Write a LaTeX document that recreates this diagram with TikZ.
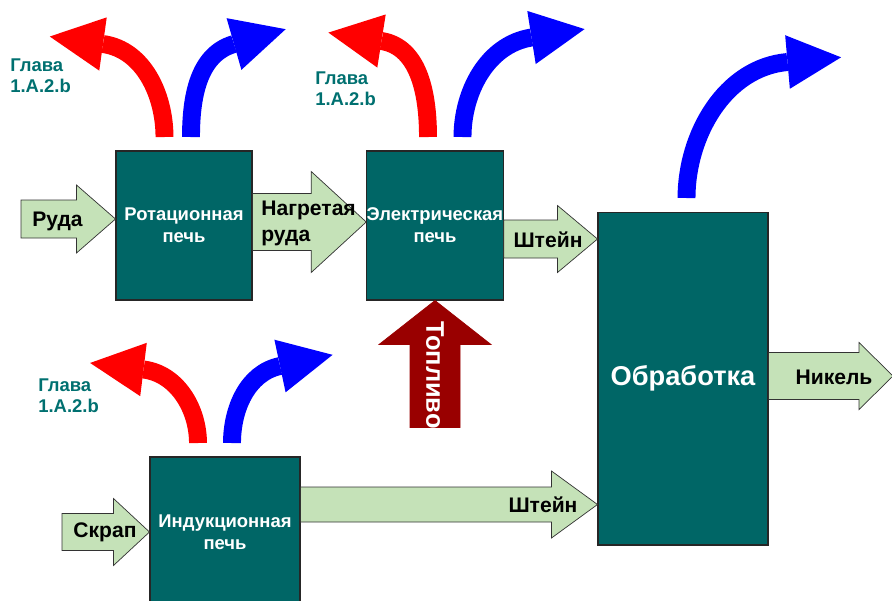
\documentclass[tikz,border=0pt]{standalone}
\usepackage{fontspec}
\setmainfont{Liberation Sans}
\usetikzlibrary{arrows.meta, calc}
\definecolor{furnteal}{RGB}{0,102,102}
\definecolor{flowgreen}{RGB}{197,226,184}
\definecolor{fuelred}{RGB}{153,0,0}
\definecolor{glavateal}{RGB}{0,112,112}

% block arrow: [style]{from}{to}{half shaft}{half head}{head length}
\newcommand{\fatarrow}[6][]{%
  \coordinate (fa-base) at ($(#3)!#6!(#2)$);
  \filldraw[flow, #1] ($(#2)!#4!-90:(#3)$) -- ($(fa-base)!#4!90:(#2)$) -- ($(fa-base)!#5!90:(#2)$) -- (#3)
    -- ($(fa-base)!#5!-90:(#2)$) -- ($(fa-base)!#4!-90:(#2)$) -- ($(#2)!#4!90:(#3)$) -- cycle;
}

\begin{document}
\begin{tikzpicture}[x=0.02cm, y=0.02cm,
    furnace/.style={draw=black!85, line width=0.6pt, fill=furnteal, text=white, align=center, inner sep=0pt,
      font=\bfseries\fontsize{10.5}{12.5}\selectfont},
    flow/.style={draw=black!80, line width=0.4pt, fill=flowgreen},
    fuelarrow/.style={draw=fuelred, fill=fuelred},
    flowlabel/.style={font=\bfseries\fontsize{12}{15}\selectfont, inner sep=0pt},
    glava/.style={text=glavateal, font=\bfseries\fontsize{10.5}{12}\selectfont, align=left, anchor=west, inner sep=0pt},
    emission/.style={line width=10.2pt, shorten >=-30.6pt, -{Triangle[length=30.6pt, width=30.6pt, line width'=0pt]}}]
  \useasboundingbox (0,0) rectangle (892,600);

  % Furnaces
  \node[furnace, minimum width=2.72cm, minimum height=2.98cm] (rot) at (184,374.5) {Ротационная\\печь};
  \node[furnace, minimum width=2.72cm, minimum height=2.98cm] (elec) at (435,374.5) {Электрическая\\печь};
  \node[furnace, minimum width=3cm, minimum height=3cm] (ind) at (225,68) {Индукционная\\печь};
  \node[furnace, minimum width=3.4cm, minimum height=6.66cm, font=\bfseries\fontsize{15.5}{18}\selectfont] (obr) at (683,221.5) {Обработка};

  % Material flows
  \coordinate (ore) at (21,381);
  \coordinate (hot) at ($(rot.east)+(0,3.5)$);
  \coordinate (matte1) at ($(elec.east)+(0,-13.5)$);
  \coordinate (matte2) at ($(ind.east)+(0,27.5)$);
  \coordinate (scrap) at (62,68);
  \coordinate (nickel) at (893,224);
  \coordinate (fuel) at ($(elec.south)+(0,-127)$);
  \fatarrow{ore}{rot.west |- ore}{0.38cm}{0.68cm}{0.78cm}
  \fatarrow{hot}{elec.west |- hot}{0.57cm}{1.01cm}{1.10cm}
  \fatarrow{matte1}{obr.west |- matte1}{0.38cm}{0.67cm}{0.80cm}
  \fatarrow{matte2}{obr.west |- matte2}{0.35cm}{0.67cm}{0.92cm}
  \fatarrow{scrap}{ind.west}{0.37cm}{0.67cm}{0.72cm}
  \fatarrow{obr.east |- nickel}{nickel}{0.47cm}{0.67cm}{0.68cm}
  \fatarrow[fuelarrow]{fuel}{elec.south}{0.50cm}{1.12cm}{0.88cm}

  \node[flowlabel] (ore-lbl) at (57.5,379) {Руда};
  \node[flowlabel, align=left, anchor=west] (hot-lbl) at (261,376.5) {Нагретая\\руда};
  \node[flowlabel] (matte1-lbl) at (548,360) {Штейн};
  \node[flowlabel] (matte2-lbl) at (543,95) {Штейн};
  \node[flowlabel] (scrap-lbl) at (105,68) {Скрап};
  \node[flowlabel] (nickel-lbl) at (834,223) {Никель};
  \node[font=\bfseries\fontsize{14.5}{16}\selectfont, text=white, rotate=-90, inner sep=0pt] (fuel-lbl) at (435,225) {Топливо};

  % Emissions (red: chapter 1.A.2.b, blue: other)
  \foreach \sx/\sy/\bx/\by/\a/\col in {164.5/463/103/556/-8/red, 191/463/234/556/196/blue,
      428/463/381.5/559/-9/red, 462.5/463/531.5/562.5/189/blue,
      198/157/143.5/230.5/-7/red, 232/157/280/234/192/blue, 686.5/402/787.5/538/185/blue} {
    \draw[emission, \col] (\sx,\sy) to[out=90, in=\a, looseness=0.95] (\bx,\by);
  }

  \node[glava] (glava1) at (10,524) {Глава\\1.A.2.b};
  \node[glava] (glava2) at (315,511) {Глава\\1.A.2.b};
  \node[glava] (glava3) at (38,204) {Глава\\1.A.2.b};
\end{tikzpicture}
\end{document}
